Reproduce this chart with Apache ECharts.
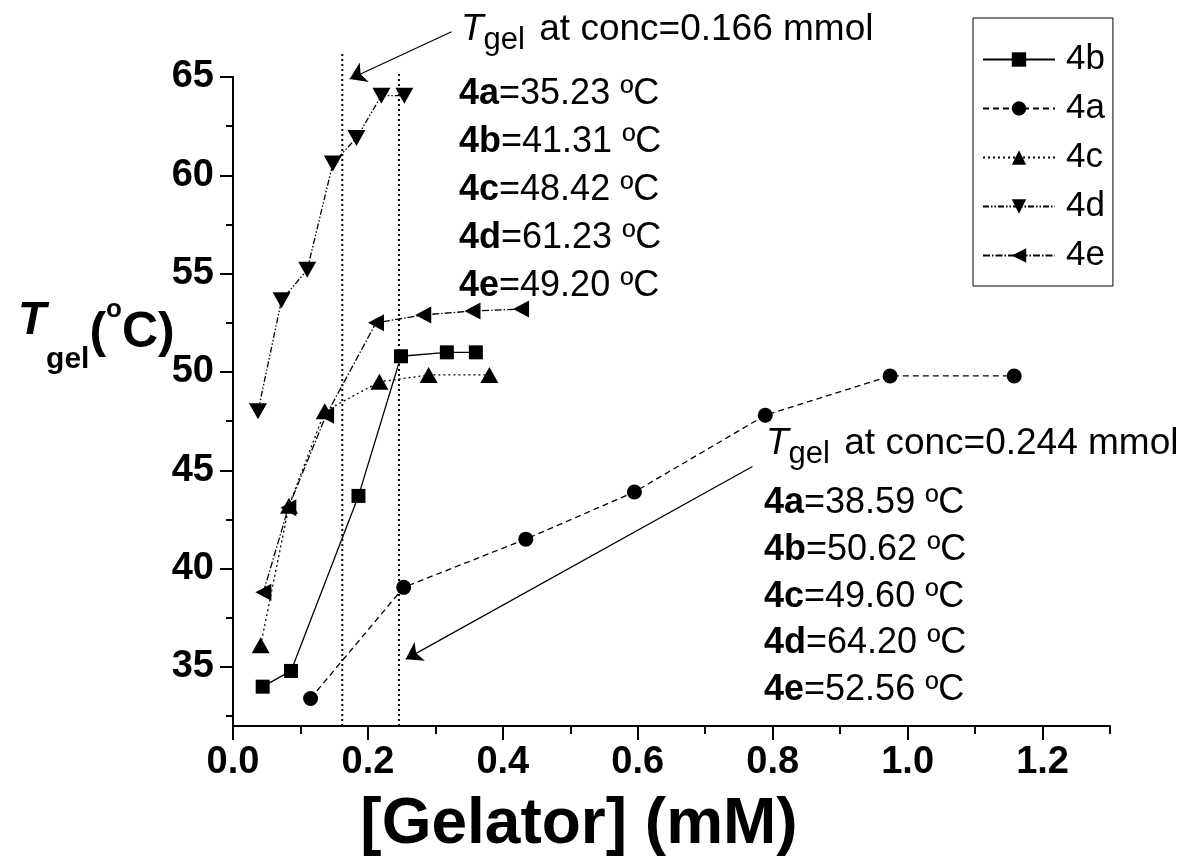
<!DOCTYPE html>
<html>
<head>
<meta charset="UTF-8">
<title>Tgel vs gelator concentration</title>
<script src="https://cdn.jsdelivr.net/npm/echarts@6/dist/echarts.min.js"></script>
<style>
  html, body { margin: 0; padding: 0; background: #fff; }
  #chart { width: 1188px; height: 868px; }
</style>
</head>
<body>
<div id="chart"></div>
<script>
// gelator concentration (mM) and Tgel (oC) per gelator
const conc4b = [0.044, 0.086, 0.186, 0.249, 0.317, 0.360];
const tgel4b = [34.0, 34.8, 43.7, 50.8, 51.0, 51.0];
const conc4a = [0.115, 0.253, 0.434, 0.595, 0.789, 0.974, 1.158];
const tgel4a = [33.4, 39.05, 41.5, 43.9, 47.8, 49.8, 49.8];
const conc4c = [0.041, 0.083, 0.136, 0.217, 0.290, 0.380];
const tgel4c = [36.1, 43.2, 48.0, 49.5, 49.85, 49.85];
const conc4d = [0.037, 0.072, 0.110, 0.148, 0.183, 0.220, 0.254];
const tgel4d = [48.0, 53.65, 55.2, 60.6, 61.9, 64.05, 64.05];
const conc4e = [0.045, 0.082, 0.138, 0.212, 0.282, 0.355, 0.427];
const tgel4e = [38.8, 43.1, 47.8, 52.5, 52.9, 53.1, 53.2];

// dotted guide lines at the two reference concentrations
const guideConc = [0.162, 0.246];
const guideTop = [66.2, 65.3];
const guideBottom = 32;

// arrows: [fromX, fromY, toX, toY] in data units
const arrow1 = [0.324, 67.3, 0.173, 64.9];
const arrow2 = [0.770, 45.2, 0.256, 35.4];

// axis ticks
const xMajor = [0, 0.2, 0.4, 0.6, 0.8, 1.0, 1.2];
const xMinor = [0.1, 0.3, 0.5, 0.7, 0.9, 1.1, 1.3];
const yMajor = [35, 40, 45, 50, 55, 60, 65];
const yMinor = [32.5, 37.5, 42.5, 47.5, 52.5, 57.5, 62.5];

// annotation text
const refConc = ['0.166', '0.244'];
const gelNames = ['4a', '4b', '4c', '4d', '4e'];
const tgelAt166 = ['35.23', '41.31', '48.42', '61.23', '49.20'];
const tgelAt244 = ['38.59', '50.62', '49.60', '64.20', '52.56'];
const legendOrder = ['4b', '4a', '4c', '4d', '4e'];

const FONT = 'Liberation Sans, Arial, Helvetica, sans-serif';

function zip(xs, ys) {
  return xs.map((x, i) => [x, ys[i]]);
}

function dataSeries(name, xs, ys, symbol, size, dash) {
  return {
    name: name,
    type: 'line',
    data: zip(xs, ys),
    symbol: symbol,
    symbolSize: size,
    showSymbol: true,
    lineStyle: { color: '#000', width: 1.3, type: dash },
    itemStyle: { color: '#000' },
    emphasis: { disabled: true },
    silent: true,
    z: 3
  };
}

function guideSeries(i) {
  return {
    name: 'guide' + i,
    type: 'line',
    data: [[guideConc[i], guideBottom], [guideConc[i], guideTop[i]]],
    symbol: 'none',
    clip: false,
    lineStyle: { color: '#000', width: 2, type: [2, 3] },
    emphasis: { disabled: true },
    silent: true,
    z: 2
  };
}

const triDown = 'path://M0,0 L10,0 L5,9 Z';
const triLeft = 'path://M0,5 L9,0 L9,10 Z';

const series = [
  dataSeries('4b', conc4b, tgel4b, 'rect', 14, 'solid'),
  dataSeries('4a', conc4a, tgel4a, 'circle', 15, [6, 4]),
  dataSeries('4c', conc4c, tgel4c, 'triangle', [18, 16], [2, 3]),
  dataSeries('4d', conc4d, tgel4d, triDown, [18, 16], [6, 2, 1.5, 2, 1.5, 2]),
  dataSeries('4e', conc4e, tgel4e, triLeft, [16, 17], [7, 2, 1.5, 2]),
  guideSeries(0),
  guideSeries(1),
  {
    name: 'arrows',
    type: 'lines',
    coordinateSystem: 'cartesian2d',
    clip: false,
    silent: true,
    symbol: ['none', 'arrow'],
    symbolSize: [9, 16],
    lineStyle: { color: '#000', width: 1.2, type: 'solid', opacity: 1, curveness: 0 },
    emphasis: { disabled: true },
    data: [arrow1, arrow2].map(a => ({ coords: [[a[0], a[1]], [a[2], a[3]]] })),
    z: 4
  }
];

// T_gel heading plus five value rows, as graphic texts
function annotationBlock(x, headY, rowY, rowGap, conc, values) {
  const items = [{
    type: 'text',
    x: x,
    y: headY,
    style: {
      text: '{t|T}{g|gel} at conc=' + conc + ' mmol',
      fontSize: 37,
      fontFamily: FONT,
      lineHeight: 50,
      fill: '#000',
      verticalAlign: 'middle',
      rich: {
        t: { fontSize: 37, fontStyle: 'italic', fontFamily: FONT, lineHeight: 50 },
        g: { fontSize: 31, fontFamily: FONT, lineHeight: 31, padding: [20, 4, 0, 0] }
      }
    }
  }];
  values.forEach((v, i) => {
    items.push({
      type: 'text',
      x: x - 2,
      y: rowY + i * rowGap,
      style: {
        text: '{b|' + gelNames[i] + '}=' + v + ' \u00baC',
        fontSize: 36,
        fontFamily: FONT,
        fill: '#000',
        verticalAlign: 'middle',
        rich: { b: { fontSize: 36, fontWeight: 'bold', fontFamily: FONT } }
      }
    });
  });
  return items;
}

const graphics = [].concat(
  annotationBlock(461, 30, 94, 48, refConc[0], tgelAt166),
  annotationBlock(766, 444, 503, 46.8, refConc[1], tgelAt244),
  [
    {
      type: 'text',
      x: 18,
      y: 333,
      style: {
        text: '{t|T}{g|gel}{p|(}{o|o}{p|C)}',
        fill: '#000',
        verticalAlign: 'middle',
        rich: {
          t: { fontSize: 46, fontWeight: 'bold', fontStyle: 'italic', fontFamily: FONT, lineHeight: 46, padding: [0, 0, 24, 0] },
          g: { fontSize: 30, fontWeight: 'bold', fontFamily: FONT, lineHeight: 30, padding: [54, 0, 0, 0] },
          p: { fontSize: 50, fontWeight: 'bold', fontFamily: FONT, lineHeight: 60 },
          o: { fontSize: 26, fontWeight: 'bold', fontFamily: FONT, lineHeight: 26, padding: [0, 0, 46, 0] }
        }
      }
    },
    {
      type: 'text',
      x: 579,
      y: 825,
      style: {
        text: '[Gelator] (mM)',
        fontSize: 64,
        fontWeight: 'bold',
        fontFamily: FONT,
        fill: '#000',
        align: 'center',
        verticalAlign: 'middle'
      }
    }
  ]
);

const axisLabelStyle = {
  fontSize: 38,
  fontWeight: 'bold',
  fontFamily: FONT,
  color: '#000'
};

const chart = echarts.init(document.getElementById('chart'), null, { renderer: 'canvas' });

chart.setOption({
  animation: false,
  backgroundColor: '#fff',
  grid: { left: 233, right: 78, top: 77, bottom: 142, containLabel: false, outerBoundsMode: 'none' },
  legend: {
    data: legendOrder,
    orient: 'vertical',
    left: 973,
    top: 18,
    itemWidth: 72,
    itemHeight: 18,
    itemGap: 14,
    padding: [24, 8, 13, 9],
    borderColor: '#000',
    borderWidth: 1,
    borderRadius: 0,
    selectedMode: false,
    textStyle: { fontSize: 35, lineHeight: 35, color: '#000', fontFamily: FONT, padding: [0, 0, 0, 6] }
  },
  xAxis: [
    {
      type: 'value',
      min: 0,
      max: 1.3,
      position: 'bottom',
      axisLine: { show: true, onZero: false, lineStyle: { color: '#000', width: 2 } },
      axisTick: { show: true, inside: false, length: 14, customValues: xMajor, lineStyle: { color: '#000', width: 2 } },
      axisLabel: Object.assign({ margin: 18, customValues: xMajor, formatter: v => v.toFixed(1) }, axisLabelStyle),
      splitLine: { show: false }
    },
    {
      type: 'value',
      min: 0,
      max: 1.3,
      position: 'bottom',
      axisLine: { show: false },
      axisTick: { show: true, inside: false, length: 8, customValues: xMinor, lineStyle: { color: '#000', width: 2 } },
      axisLabel: { show: false },
      splitLine: { show: false }
    }
  ],
  yAxis: [
    {
      type: 'value',
      min: 32,
      max: 65,
      position: 'left',
      axisLine: { show: true, onZero: false, lineStyle: { color: '#000', width: 2 } },
      axisTick: { show: true, inside: false, length: 13, customValues: yMajor, lineStyle: { color: '#000', width: 2 } },
      axisLabel: Object.assign({ margin: 19, customValues: yMajor }, axisLabelStyle),
      splitLine: { show: false }
    },
    {
      type: 'value',
      min: 32,
      max: 65,
      position: 'left',
      axisLine: { show: false },
      axisTick: { show: true, inside: false, length: 7, customValues: yMinor, lineStyle: { color: '#000', width: 2 } },
      axisLabel: { show: false },
      splitLine: { show: false }
    }
  ],
  series: series,
  graphic: graphics
});
</script>
</body>
</html>
